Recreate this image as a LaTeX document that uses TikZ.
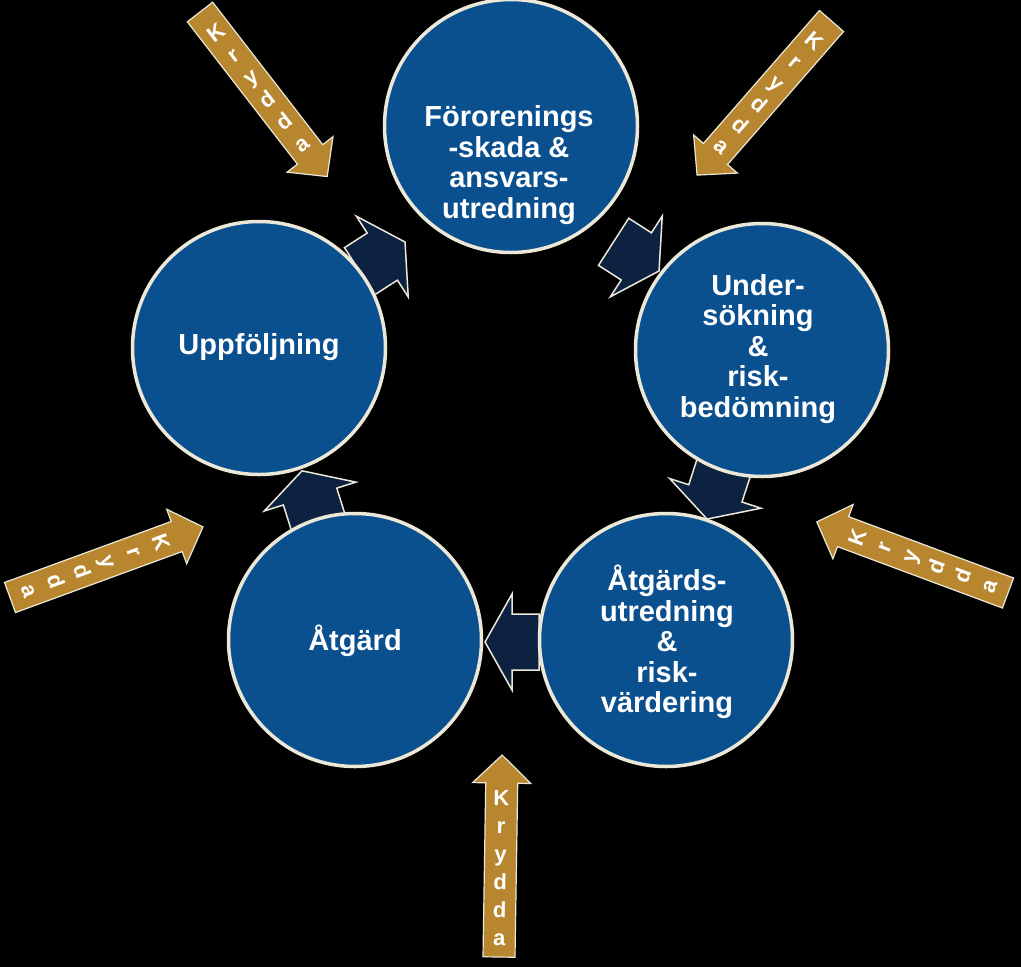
\documentclass[tikz,border=0pt]{standalone}
\usepackage{fontspec}
\setmainfont{Liberation Sans}
\definecolor{cblue}{RGB}{10,79,142}
\definecolor{cnavy}{RGB}{12,34,64}
\definecolor{cgold}{RGB}{184,134,46}
\definecolor{ccream}{RGB}{236,232,216}
\tikzset{
  circ/.style={circle, draw=ccream, line width=3.5pt, fill=cblue, minimum size=253pt, inner sep=0pt},
  ctext/.style={text=white, font=\bfseries\fontsize{29}{30.5}\selectfont, align=center, inner sep=0pt},
  navyarrow/.style={fill=cnavy, draw=ccream, line width=1.5pt, line join=miter},
  goldarrow/.style={fill=cgold, draw=ccream, line width=1.2pt, line join=miter},
  letter/.style={text=white, font=\bfseries\fontsize{22}{22}\selectfont, inner sep=0pt, text height=16pt, text depth=4.5pt},
}
% navy block arrow: tail centre x, y, angle
\newcommand\navyarr[3]{%
  \begin{scope}[shift={(#1,#2)},rotate=#3]
    \draw[navyarrow] (0,28) -- (27,28) -- (27,48) -- (54,0) -- (27,-48) -- (27,-28) -- (0,-28) -- cycle;
  \end{scope}}
% gold arrow: tail centre x, y, angle, length, first letter pos, step, letter rotation
\newcommand\goldarr[7]{%
  \begin{scope}[shift={(#1,#2)},rotate=#3]
    \draw[goldarrow] (0,16) -- ({#4-28},16) -- ({#4-28},29) -- (#4,0) -- ({#4-28},-29) -- ({#4-28},-16) -- (0,-16) -- cycle;
    \foreach \c [count=\i] in {K,r,y,d,d,a}
      \node[letter, rotate=#7] (l\i) at ({#5+(\i-1)*(#6)},0) {\c};
  \end{scope}}
\begin{document}
\begin{tikzpicture}[x=1pt,y=1pt]
\fill[black] (0,0) rectangle (1021,-967);
\useasboundingbox (0,0) rectangle (1021,-967);

% navy block arrows between the circles
\navyarr{359.6}{-271.2}{32.7}
\navyarr{613.6}{-241.8}{-32.7}
\navyarr{723.7}{-467.7}{-108}
\navyarr{539}{-642}{180}
\navyarr{318.2}{-522.3}{107.5}

% circles
\node[circ] (c1) at (511,-126) {};
\node[circ] (c2) at (762,-350) {};
\node[circ] (c3) at (666,-640) {};
\node[circ] (c4) at (355,-640) {};
\node[circ] (c5) at (259,-348) {};

\node[ctext] (t1) at (509,-165) {Förorenings\\-skada \&\\ansvars-\\utredning};
\node[ctext] (t2) at (758,-349) {Under-\\sökning\\\&\\risk-\\bedömning};
\node[ctext] (t3) at (667,-642) {Åtgärds-\\utredning\\\&\\risk-\\värdering};
\node[ctext] (t4) at (355,-641) {Åtgärd};
\node[ctext] (t5) at (259,-347) {Uppföljning};

% gold "Krydda" arrows
\goldarr{200}{-12}{-52.3}{208}{28}{28}{37.7}
\goldarr{831.5}{-21}{-131.1}{204.5}{28}{28}{-41.1}
\goldarr{10}{-597.5}{20.1}{205.5}{159}{-28}{-69.9}
\goldarr{1008}{-593}{159.6}{204}{159}{-28}{69.6}
\goldarr{499}{-957}{89.1}{202}{157}{-28}{-0.9}
\end{tikzpicture}
\end{document}
